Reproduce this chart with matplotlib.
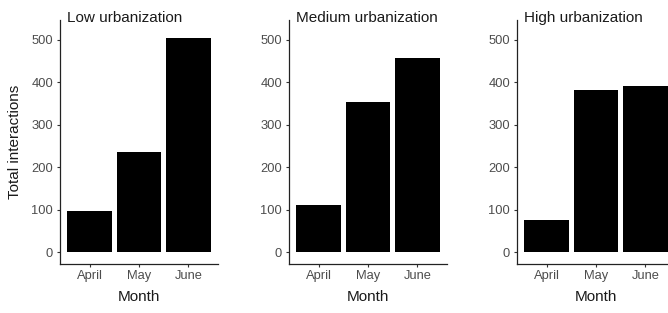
import matplotlib
matplotlib.use("Agg")
import matplotlib.pyplot as plt
import numpy as np

plt.rcParams['font.family'] = ['Liberation Sans', 'DejaVu Sans']

months = ["April", "May", "June"]
panel_titles = ["Low urbanization", "Medium urbanization", "High urbanization"]
low_values = [97, 237, 505]
medium_values = [111, 355, 457]
high_values = [76, 382, 392]
series = [low_values, medium_values, high_values]
y_ticks = [0, 100, 200, 300, 400, 500]

W, H = 668, 313
fig = plt.figure(figsize=(W / 100, H / 100), dpi=100)
fig.patch.set_facecolor("white")

lefts_px = [60, 289, 517]
panel_w_px = 158
top_px, bottom_px = 20.4, 263.5

for i, (left, title, vals) in enumerate(zip(lefts_px, panel_titles, series)):
    ax = fig.add_axes([left / W, 1 - bottom_px / H, panel_w_px / W, (bottom_px - top_px) / H])
    x = np.arange(1, len(months) + 1)
    ax.bar(x, vals, width=0.9, color="black", edgecolor="none")
    ax.set_xlim(0.4, 3.6)
    ax.set_ylim(-26, 546)
    ax.set_xticks(x)
    ax.set_xticklabels(months)
    ax.set_yticks(y_ticks)
    for s in ["top", "right"]:
        ax.spines[s].set_visible(False)
    for s in ["left", "bottom"]:
        ax.spines[s].set_color("#222222")
        ax.spines[s].set_linewidth(0.9)
    ax.tick_params(axis="both", length=2.5, width=0.8, color="#333333",
                   labelsize=9.3, labelcolor="#4D4D4D", pad=2.5)
    ax.set_xlabel("Month", fontsize=11, color="#1A1A1A", labelpad=5.5)
    ax.text(7 / panel_w_px, (bottom_px - 22) / (bottom_px - top_px), title,
            transform=ax.transAxes, ha="left", va="baseline",
            fontsize=11, color="#1A1A1A", clip_on=False)

fig.text(15 / W, 1 - 142 / H, "Total interactions", rotation=90,
         ha="center", va="center", fontsize=11, color="#1A1A1A")

fig.savefig("out.png", dpi=100, facecolor="white")
